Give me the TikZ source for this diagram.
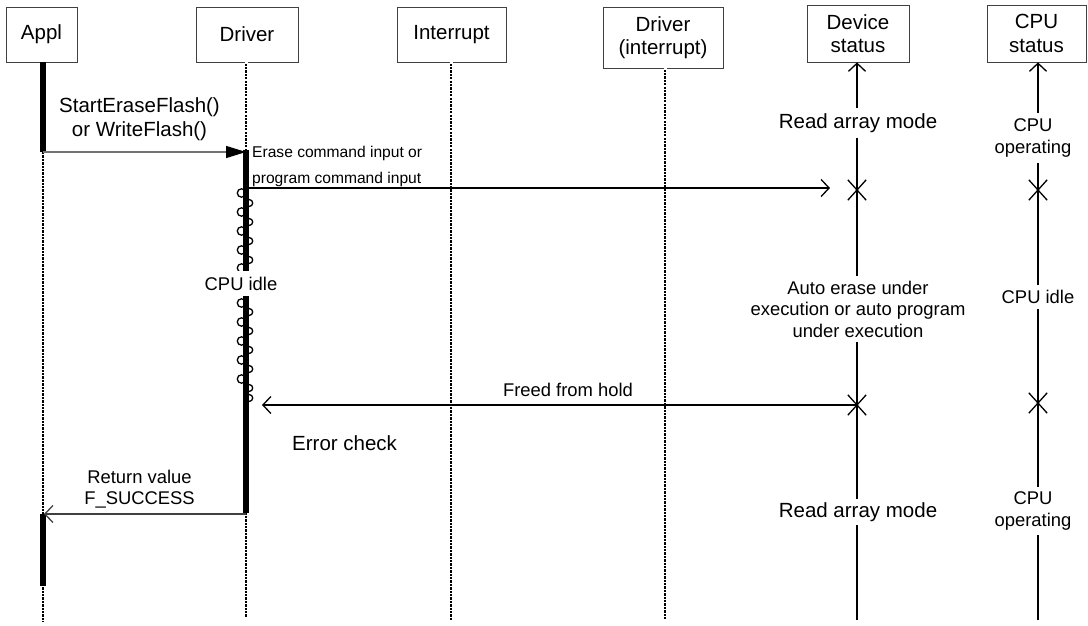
\documentclass[tikz,border=0pt]{standalone}
\usepackage{fontspec}
\setmainfont{Liberation Sans}
\usetikzlibrary{arrows.meta,shapes.misc}

\tikzset{
  fbig/.style={font=\fontsize{20.5}{23.5}\selectfont},
  fmid/.style={font=\fontsize{18.4}{21.5}\selectfont},
  fsmall/.style={font=\fontsize{15.6}{26}\selectfont},
  headbox/.style={draw=black!75, line width=0.8pt, fbig, align=center, inner sep=0pt},
  % solid black stroke broken by short white gaps
  lifedots/.style={draw=white, line width=3pt, dash pattern=on 1.1pt off 2.3pt,
    preaction={draw=black, line width=2.6pt, solid}},
  activebar/.style={line width=5.5pt},
  statusline/.style={line width=1.3pt},
  openhead/.style={-{Straight Barb[length=8pt,width=17pt,line width=1.3pt]}},
  msg/.style={line width=1.3pt, openhead},
  callmsg/.style={line width=1.3pt, draw=black!55, -{Triangle[length=20pt,width=12pt,color=black]}},
  gapnote/.style={fill=white, align=center, inner xsep=2pt},
  xmark/.style={cross out, draw, line width=1.3pt, minimum width=17pt, minimum height=19pt, inner sep=0pt},
  coilring/.style={line width=1.3pt},
}

\begin{document}
\begin{tikzpicture}[x=1pt, y=-1pt]
\useasboundingbox (0,0) rectangle (1088,626);

% participant boxes
\node[headbox, minimum width=71pt, minimum height=55pt] (appl) at (41.5,34.5) {Appl};
\node[headbox, minimum width=102pt, minimum height=55pt] (drv) at (247,34.5) {Driver};
\node[headbox, minimum width=109pt, minimum height=55pt] (intr) at (451.5,34.5) {Interrupt};
\node[headbox, minimum width=120pt, minimum height=61pt] (drvi) at (663,37.5) {Driver\\(interrupt)};
\node[headbox, minimum width=102pt, minimum height=57pt] (dev) at (858,33.5) {Device\\status};
\node[headbox, minimum width=99pt, minimum height=57pt] (cpu) at (1036.5,33.5) {CPU\\status};

% dotted lifelines
\draw[lifedots] (43,62.5) -- (43,622);
\draw[lifedots] (246,62.5) -- (246,618);
\draw[lifedots] (451,62.5) -- (451,620);
\draw[lifedots] (665,68.5) -- (665,620);

% waiting coil on the driver bar
\foreach \y in {193,212,231,250,268, 303,322,341,360,379}
  \draw[coilring] (241.5,\y) circle (4.2pt);
\foreach \y in {203,222,241,260, 312,331,350,369,388,398}
  \draw[coilring] (249.3,\y) circle (3.4pt);

% activation bars
\draw[activebar] (43,62) -- (43,152);
\draw[activebar] (43,514) -- (43,586);
\draw[activebar] (246,150) -- (246,513);

% status lines with arrows into the status boxes
\coordinate (devend) at (857,620);
\coordinate (cpuend) at (1038,620);
\draw[statusline, openhead] (devend) -- (dev.south -| devend);
\draw[statusline, openhead] (cpuend) -- (cpu.south -| cpuend);

% state labels on the status lines
\node[gapnote, fbig, inner ysep=5pt] (rd1) at (858,123) {Read array mode};
\node[gapnote, fmid, inner ysep=6pt] (op1) at (1033,138) {CPU\\operating};
\node[gapnote, fmid, inner ysep=5pt] (auto) at (858,309) {Auto erase under\\execution or auto program\\under execution};
\node[gapnote, fmid, inner ysep=5pt] (idle2) at (1038,297) {CPU idle};
\node[gapnote, fbig, inner ysep=3pt] (rd2) at (858,512) {Read array mode};
\node[gapnote, fmid, inner ysep=5pt] (op2) at (1033,511) {CPU\\operating};

% state changes
\node[xmark] (xd1) at (857,190) {};
\node[xmark] (xc1) at (1038,190) {};
\node[xmark] (xd2) at (857,405) {};
\node[xmark] (xc2) at (1038,403) {};

% driver waits
\node[gapnote, fmid, anchor=base, inner ysep=6pt] (idle1) at (241,290) {CPU idle};

% messages
\coordinate (a1) at (43,152);
\coordinate (d1) at (246,152);
\draw[callmsg] (a1) -- (d1);
\node[fbig, align=center] (callnote) at (139.5,119) {StartEraseFlash()\\or WriteFlash()};

\coordinate (d2) at (249,188);
\coordinate (v2) at (830,188);
\draw[msg] (d2) -- (v2);
\node[fsmall, align=left, anchor=west, inner sep=0pt] (cmdnote) at (252,166) {Erase command input or\\program command input};

\coordinate (d3) at (262,405);
\draw[msg] (xd2.center) -- (d3);
\node[fmid, anchor=base, inner sep=0pt] (freed) at (568,396) {Freed from hold};

\node[fbig, anchor=base west, inner sep=0pt] (errchk) at (292,450) {Error check};

\coordinate (d4) at (246,514);
\coordinate (a4) at (44,514);
\draw[msg, draw=black!75] (d4) -- (a4);
\node[fmid, align=center] (retnote) at (139.5,489) {Return value\\F\_SUCCESS};

\end{tikzpicture}
\end{document}
